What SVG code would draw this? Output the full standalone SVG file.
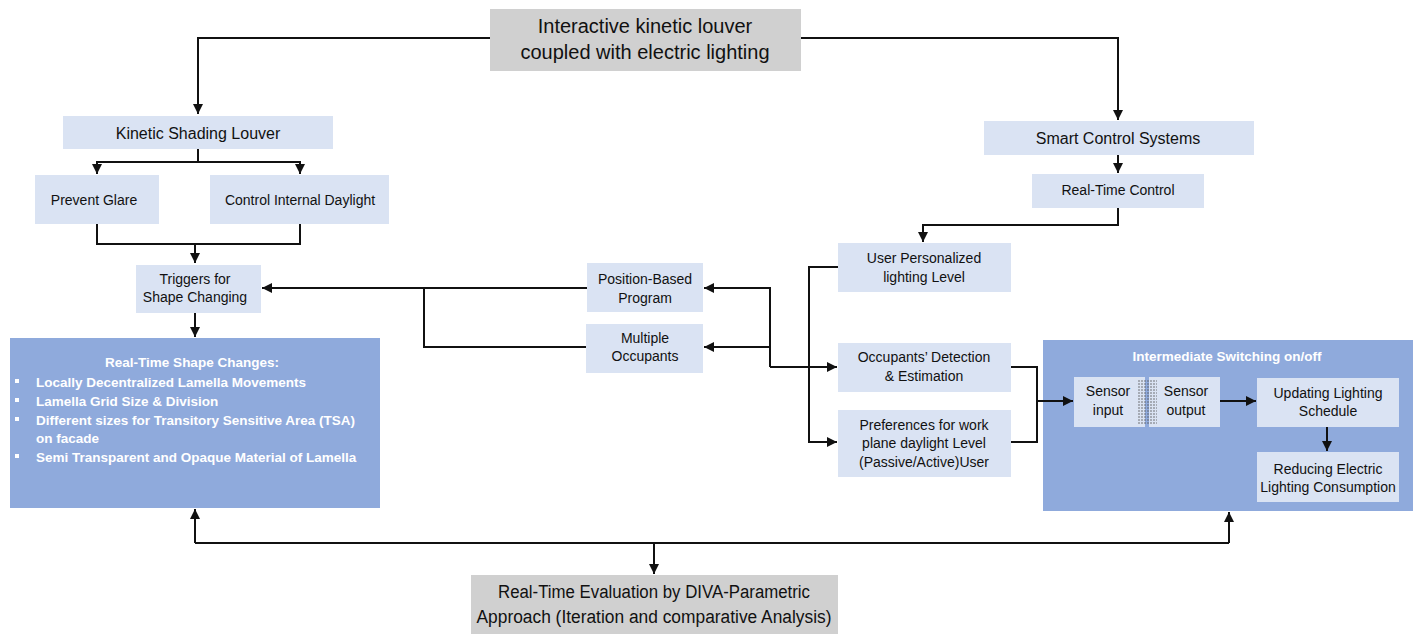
<svg xmlns="http://www.w3.org/2000/svg" width="1416" height="634" viewBox="0 0 1416 634">
<style>
.lb{fill:#dae3f3}
.mb{fill:#8faadc}
.gb{fill:#d0d0d0}
text{font-family:"Liberation Sans","Noto Sans",sans-serif;fill:#111;text-anchor:middle}
.t20{font-size:20px}
.t16{font-size:16px}
.t14{font-size:14px}
.w{fill:#fff;font-weight:bold;font-size:13.5px}
.wl{fill:#fff;font-weight:bold;font-size:13.5px;text-anchor:start}
.c{stroke:#111;stroke-width:2;fill:none}
.dash{stroke:#555;stroke-width:0.8;stroke-dasharray:2,1}
</style>
<defs>
<marker id="ah" viewBox="0 0 10 10" refX="10" refY="5" markerWidth="5" markerHeight="5" orient="auto" markerUnits="strokeWidth">
<path d="M0,0 L10,5 L0,10 Z" fill="#111"/>
</marker>
</defs>
<rect width="1416" height="634" fill="#fff"/>

<g id="title">
<rect class="gb" x="490" y="9" width="311" height="62"/>
<text class="t20" x="645" y="33">Interactive kinetic louver</text>
<text class="t20" x="645" y="59">coupled with electric lighting</text>
</g>

<g id="kinetic">
<rect class="lb" x="63" y="116" width="270" height="33"/>
<text class="t16" x="198" y="139">Kinetic Shading Louver</text>
</g>

<g id="glare">
<rect class="lb" x="35" y="175" width="124" height="49"/>
<text class="t14" x="94" y="205">Prevent Glare</text>
</g>

<g id="daylight">
<rect class="lb" x="210" y="175" width="179" height="49"/>
<text class="t14" x="300" y="205">Control Internal Daylight</text>
</g>

<g id="triggers">
<rect class="lb" x="136" y="265" width="125" height="48"/>
<text class="t14" x="195" y="284">Triggers for</text>
<text class="t14" x="195" y="302">Shape Changing</text>
</g>

<g id="shapechanges">
<rect class="mb" x="10" y="338" width="370" height="170"/>
<text class="w" x="192" y="367">Real-Time Shape Changes:</text>
<rect x="15" y="379" width="4" height="4" fill="#fff"/>
<rect x="15" y="398" width="4" height="4" fill="#fff"/>
<rect x="15" y="417" width="4" height="4" fill="#fff"/>
<rect x="15" y="454" width="4" height="4" fill="#fff"/>
<text class="wl" x="36" y="387">Locally Decentralized Lamella Movements</text>
<text class="wl" x="36" y="406">Lamella Grid Size &amp; Division</text>
<text class="wl" x="36" y="425">Different sizes for Transitory Sensitive Area (TSA)</text>
<text class="wl" x="36" y="443">on facade</text>
<text class="wl" x="36" y="462">Semi Transparent and Opaque Material of Lamella</text>
</g>

<g id="position">
<rect class="lb" x="587" y="263" width="116" height="49"/>
<text class="t14" x="645" y="284">Position-Based</text>
<text class="t14" x="645" y="303">Program</text>
</g>

<g id="multiple">
<rect class="lb" x="586" y="324" width="117" height="49"/>
<text class="t14" x="645" y="343">Multiple</text>
<text class="t14" x="645" y="361">Occupants</text>
</g>

<g id="smart">
<rect class="lb" x="984" y="121" width="270" height="34"/>
<text class="t16" x="1118" y="144">Smart Control Systems</text>
</g>

<g id="rtcontrol">
<rect class="lb" x="1032" y="174" width="172" height="34"/>
<text class="t14" x="1118" y="195">Real-Time Control</text>
</g>

<g id="userlevel">
<rect class="lb" x="838" y="243" width="173" height="49"/>
<text class="t14" x="924" y="263">User Personalized</text>
<text class="t14" x="924" y="282">lighting Level</text>
</g>

<g id="detection">
<rect class="lb" x="838" y="343" width="173" height="49"/>
<text class="t14" x="924" y="362">Occupants’ Detection</text>
<text class="t14" x="924" y="381">&amp; Estimation</text>
</g>

<g id="preferences">
<rect class="lb" x="838" y="410" width="173" height="67"/>
<text class="t14" x="924" y="430">Preferences for work</text>
<text class="t14" x="924" y="448">plane daylight Level</text>
<text class="t14" x="924" y="467">(Passive/Active)User</text>
</g>

<g id="switching">
<rect class="mb" x="1043" y="340" width="370" height="171"/>
<text class="w" x="1227" y="361">Intermediate Switching on/off</text>
</g>

<g id="sensorin">
<rect class="lb" x="1074" y="377" width="71" height="50"/>
<text class="t14" x="1108" y="396">Sensor</text>
<text class="t14" x="1108" y="415">input</text>
</g>

<g id="sensorout">
<rect class="lb" x="1149" y="377" width="71" height="50"/>
<text class="t14" x="1186" y="396">Sensor</text>
<text class="t14" x="1186" y="415">output</text>
</g>

<g id="sensorlink">
<path class="dash" d="M1138,381 H1157 M1138,384 H1157 M1138,387 H1157 M1138,390 H1157 M1138,393 H1157 M1138,396 H1157 M1138,399 H1157 M1138,402 H1157 M1138,405 H1157 M1138,408 H1157 M1138,411 H1157 M1138,414 H1157 M1138,417 H1157 M1138,420 H1157 M1138,423 H1157"/>
</g>

<g id="updating">
<rect class="lb" x="1257" y="378" width="142" height="49"/>
<text class="t14" x="1328" y="398">Updating Lighting</text>
<text class="t14" x="1328" y="416">Schedule</text>
</g>

<g id="reducing">
<rect class="lb" x="1257" y="452" width="142" height="50"/>
<text class="t14" x="1328" y="474">Reducing Electric</text>
<text class="t14" x="1328" y="492">Lighting Consumption</text>
</g>

<g id="evaluation">
<rect class="gb" x="471" y="575" width="367" height="59"/>
<text x="654" y="598" style="font-size:18px" textLength="312" lengthAdjust="spacingAndGlyphs">Real-Time Evaluation by DIVA-Parametric</text>
<text x="654" y="623" style="font-size:18px" textLength="355" lengthAdjust="spacingAndGlyphs">Approach (Iteration and comparative Analysis)</text>
</g>

<g id="connectors">
<path class="c" d="M490,38 H198 V114" marker-end="url(#ah)"/>
<path class="c" d="M801,38 H1118 V120" marker-end="url(#ah)"/>
<path class="c" d="M198,149 V162"/>
<path class="c" d="M198,162 H97 V174" marker-end="url(#ah)"/>
<path class="c" d="M198,162 H300 V174" marker-end="url(#ah)"/>
<path class="c" d="M97,224 V244 H300 V224"/>
<path class="c" d="M195,244 V263" marker-end="url(#ah)"/>
<path class="c" d="M587,288 H262" marker-end="url(#ah)"/>
<path class="c" d="M424,288 V347 H586"/>
<path class="c" d="M195,313 V337" marker-end="url(#ah)"/>
<path class="c" d="M1118,155 V173" marker-end="url(#ah)"/>
<path class="c" d="M1118,208 V225 H923 V242" marker-end="url(#ah)"/>
<path class="c" d="M770,367 V288 H704" marker-end="url(#ah)"/>
<path class="c" d="M770,347 H704" marker-end="url(#ah)"/>
<path class="c" d="M770,367 H837" marker-end="url(#ah)"/>
<path class="c" d="M838,267 H809 V442 H837" marker-end="url(#ah)"/>
<path class="c" d="M1011,367 H1037 V442 H1011"/>
<path class="c" d="M1037,401 H1073" marker-end="url(#ah)"/>
<path class="c" d="M1220,401 H1256" marker-end="url(#ah)"/>
<path class="c" d="M1327,427 V451" marker-end="url(#ah)"/>
<path class="c" d="M195,543 H1229"/>
<path class="c" d="M195,543 V509" marker-end="url(#ah)"/>
<path class="c" d="M1229,543 V512" marker-end="url(#ah)"/>
<path class="c" d="M654,543 V574" marker-end="url(#ah)"/>
</g>
</svg>
